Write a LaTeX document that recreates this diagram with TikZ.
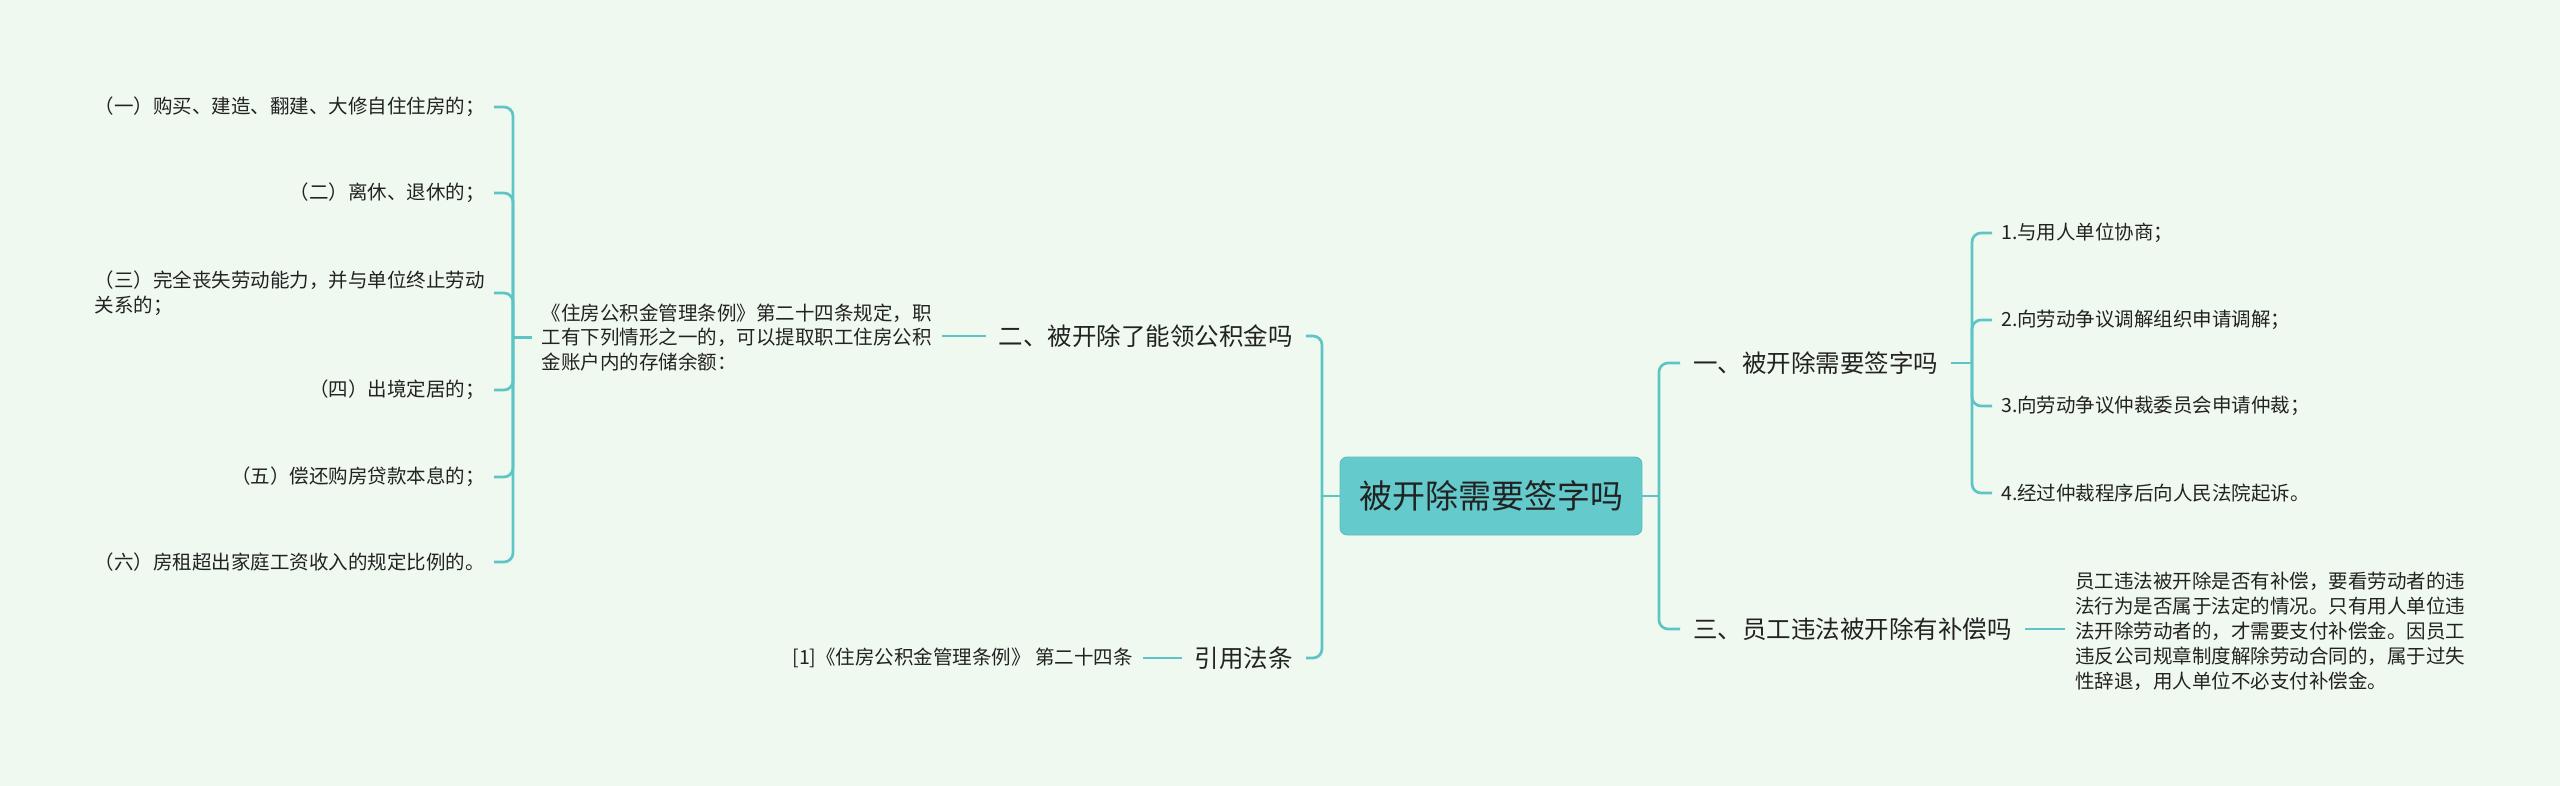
\documentclass[tikz,border=0pt]{standalone}
\usepackage{fontspec}
\setmainfont{Noto Sans CJK SC}
\definecolor{bg}{RGB}{240,249,239}
\definecolor{linec}{RGB}{94,197,198}
\definecolor{centerc}{RGB}{100,202,204}
\definecolor{txt}{RGB}{34,34,34}
\begin{document}
\begin{tikzpicture}[x=1pt,y=-1pt,
  conn/.style={draw=linec, line width=2.7pt},
  brace/.style={conn, rounded corners=9pt},
  topic/.style={font=\fontsize{24.5}{30}\selectfont, text=txt, inner xsep=13pt, inner ysep=4pt},
  leaf/.style={font=\fontsize{19.5}{24.5}\selectfont, text=txt, inner xsep=9pt, inner ysep=3pt},
  para/.style={font=\fontsize{19.5}{24.5}\selectfont, text=txt, inner xsep=10pt, inner ysep=3pt, align=left},
  rootbox/.style={fill=centerc, draw=centerc!92!black, line width=0.8pt, rounded corners=7pt,
    minimum width=302pt, minimum height=78pt, font=\fontsize{33}{40}\selectfont, text=txt, inner sep=0pt}
]
\fill[bg] (0,0) rectangle (2560,786);
\useasboundingbox (0,0) rectangle (2560,786);

% root
\node[rootbox] (root) at (1491,496) {被开除需要签字吗};

% junctions
\coordinate (jL) at (1322,496);
\coordinate (jR) at (1659,496);

% level 1
\node[topic, anchor=east] (n2) at (1306,336) {二、被开除了能领公积金吗};
\node[topic, anchor=east] (ncite) at (1306,658) {引用法条};
\node[topic, anchor=west] (n1) at (1680,363) {一、被开除需要签字吗};
\node[topic, anchor=west] (n3) at (1680,629) {三、员工违法被开除有补偿吗};

% left paragraph
\node[para, anchor=east] (pL) at (942,337.5) {《住房公积金管理条例》第二十四条规定，职\\工有下列情形之一的，可以提取职工住房公积\\金账户内的存储余额：};
\coordinate (jP) at (513,337.5);

\node[leaf, anchor=east] (c1) at (494,107) {（一）购买、建造、翻建、大修自住住房的；};
\node[leaf, anchor=east] (c2) at (494,193) {（二）离休、退休的；};
\node[leaf, anchor=east, align=left] (c3) at (494,293) {（三）完全丧失劳动能力，并与单位终止劳动\\关系的；};
\node[leaf, anchor=east] (c4) at (494,390) {（四）出境定居的；};
\node[leaf, anchor=east] (c5) at (494,477) {（五）偿还购房贷款本息的；};
\node[leaf, anchor=east] (c6) at (494,562) {（六）房租超出家庭工资收入的规定比例的。};

% citation
\node[para, anchor=east] (cite) at (1143,658) {[1]《住房公积金管理条例》 第二十四条};

% right children of n1
\coordinate (j1) at (1972,363);
\node[leaf, anchor=west] (r1) at (1992,233) {1.与用人单位协商；};
\node[leaf, anchor=west] (r2) at (1992,320) {2.向劳动争议调解组织申请调解；};
\node[leaf, anchor=west] (r3) at (1992,406) {3.向劳动争议仲裁委员会申请仲裁；};
\node[leaf, anchor=west] (r4) at (1992,493) {4.经过仲裁程序后向人民法院起诉。};

% right paragraph under n3
\node[para, anchor=west, font=\fontsize{19.5}{25}\selectfont] (pR) at (2065,631) {员工违法被开除是否有补偿，要看劳动者的违\\法行为是否属于法定的情况。只有用人单位违\\法开除劳动者的，才需要支付补偿金。因员工\\违反公司规章制度解除劳动合同的，属于过失\\性辞退，用人单位不必支付补偿金。};

% connectors: root
\draw[conn] (root.west) -- (jL);
\draw[conn] (root.east) -- (jR);
\draw[brace] (jL) |- (n2.east);
\draw[brace] (jL) |- (ncite.east);
\draw[brace] (jR) |- (n1.west);
\draw[brace] (jR) |- (n3.west);

% n2 -> paragraph -> children
\draw[conn] (n2.west) -- (n2.west -| pL.east);
\draw[conn] (pL.west) -- (jP);
\foreach \c in {c1,c2,c3,c4,c5,c6} {\draw[brace] (jP) |- (\c.east);}

% citation
\draw[conn] (ncite.west) -- (cite.east);

% n1 children
\draw[conn] (n1.east) -- (j1);
\foreach \c in {r1,r2,r3,r4} {\draw[brace] (j1) |- (\c.west);}

% n3 paragraph
\draw[conn] (n3.east) -- (n3.east -| pR.west);
\end{tikzpicture}
\end{document}
